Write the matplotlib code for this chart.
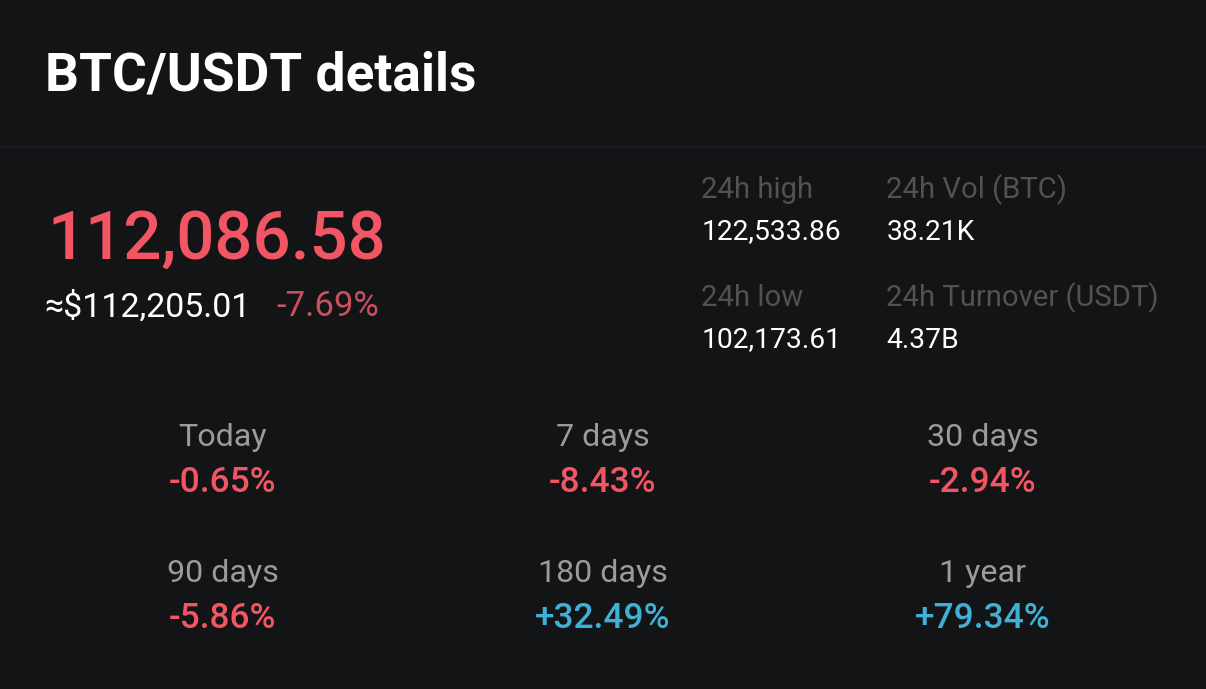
import matplotlib
matplotlib.use("Agg")
import matplotlib.pyplot as plt

# --- DATA ---
title = "BTC/USDT details"
price = "112,086.58"
price_usd = "≈$112,205.01"
change_24h = "-7.69%"

stat_labels = ["24h high", "24h Vol (BTC)", "24h low", "24h Turnover (USDT)"]
stat_values = ["122,533.86", "38.21K", "102,173.61", "4.37B"]

period_labels = ["Today", "7 days", "30 days", "90 days", "180 days", "1 year"]
period_values = ["-0.65%", "-8.43%", "-2.94%", "-5.86%", "+32.49%", "+79.34%"]

# --- COLOURS ---
bg = "#131416"
white = "#ffffff"
red = "#f25564"
red_dim = "#c9505c"
blue = "#3fb1d6"
grey = "#9a9b9d"
dim = "#505254"

W, H = 1206, 689
fig = plt.figure(figsize=(W / 100, H / 100), dpi=100, facecolor=bg)
ax = fig.add_axes([0, 0, 1, 1])
ax.set_xlim(0, W)
ax.set_ylim(H, 0)
ax.axis("off")

plt.rcParams["font.family"] = ["Roboto", "DejaVu Sans"]


def put(x, y, s, size, color, ha="left", weight="normal"):
    ax.text(x, y, s, fontsize=size, color=color, ha=ha, va="center", fontweight=weight)


put(45, 76, title, 38.3, white, weight="bold")
ax.plot([0, W], [147, 147], color="#1c1d20", lw=1.2)

put(47.5, 241, price, 48.4, red, weight="medium")
put(44.5, 307, price_usd, 24.5, white)
put(276, 307, change_24h, 25, red_dim)

# bloco de estatisticas 24h
stat_x = [701, 886, 701, 886]
stat_y = [190, 190, 298, 298]
for x, y, lab, val in zip(stat_x, stat_y, stat_labels, stat_values):
    put(x, y, lab, 21.05, dim)
    put(x + 0.5, y + 42, val, 20.3, white)

# variacoes por periodo
period_x = [222.5, 602.5, 982.5, 222.5, 602.5, 982.5]
period_y = [438, 438, 438, 573, 573, 573]
for x, y, lab, val in zip(period_x, period_y, period_labels, period_values):
    put(x, y, lab, 23.2, grey, ha="center")
    col = blue if val.startswith("+") else red
    put(x, y + 45, val, 25.4, col, ha="center", weight="medium")

fig.savefig("out.png", dpi=100, facecolor=bg)
